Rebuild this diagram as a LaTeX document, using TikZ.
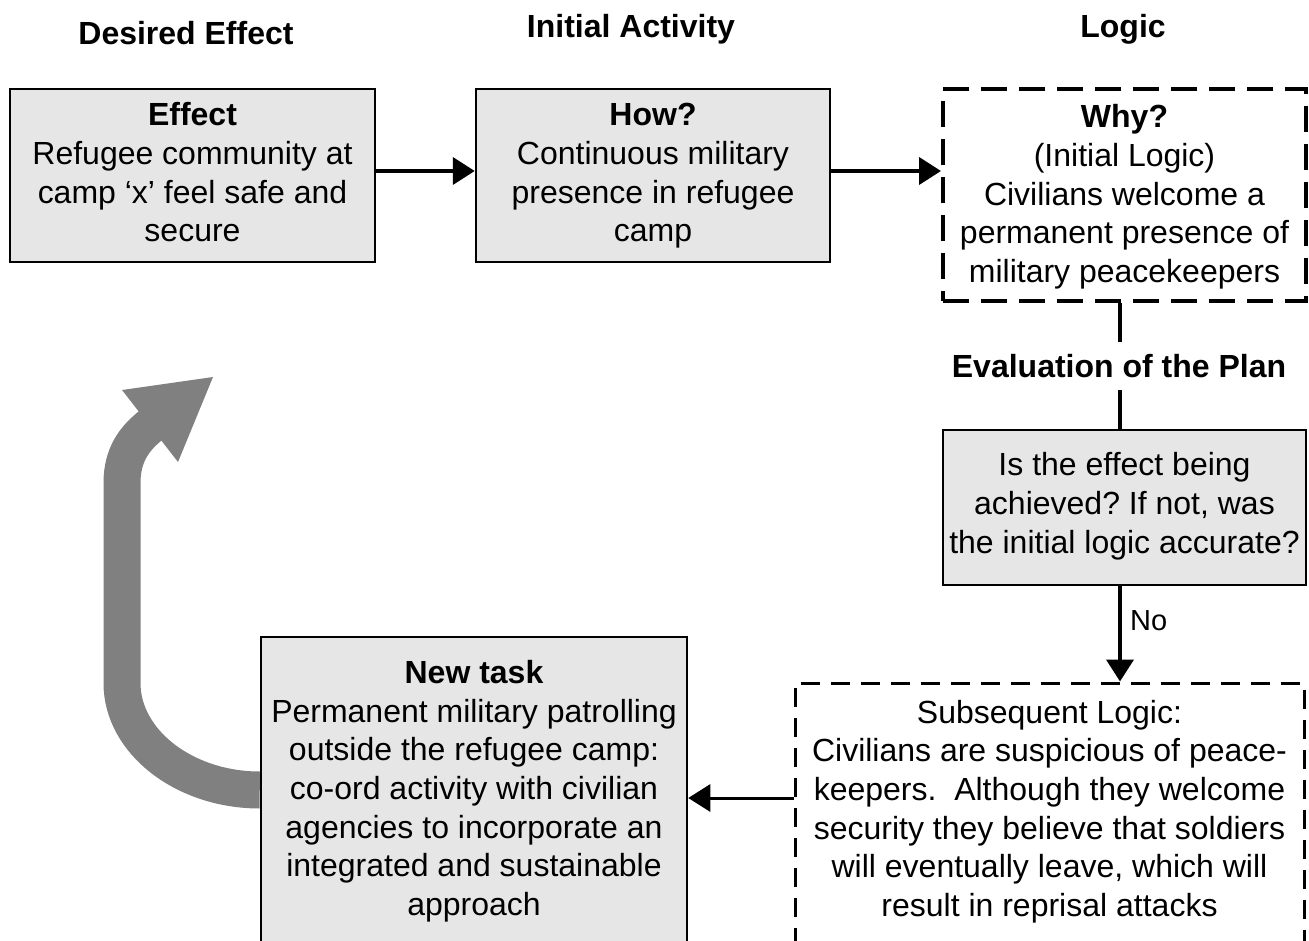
\documentclass[tikz,border=0pt]{standalone}
\usepackage{fontspec}
\setmainfont{Liberation Sans}
\usetikzlibrary{arrows.meta,backgrounds}
\definecolor{boxfill}{HTML}{E6E6E6}
\definecolor{loopgray}{HTML}{808080}
\frenchspacing
\begin{document}
\begin{tikzpicture}[x=1pt,y=-1pt,
  txt/.style={font=\fontsize{32}{38.7}\selectfont},
  box/.style={txt, draw=black, line width=2.5pt, fill=boxfill, align=center, inner sep=0pt, text depth=0pt},
  dbox/.style={txt, draw=black, line width=4pt, dash pattern=on 26pt off 12pt, align=center, inner sep=0pt, text depth=0pt},
  dboxthin/.style={dbox, line width=3pt, dash pattern=on 19pt off 11pt},
  arr/.style={line width=4pt, -{Triangle[length=22pt,width=27pt]}},
  conn/.style={line width=4pt},
  title/.style={font=\bfseries\fontsize{32}{38.5}\selectfont, anchor=base, inner sep=0pt},
  loop/.style={loopgray, line width=37pt}]
\clip (0,0) rectangle (1309,941);

% titles
\node[title] (t1) at (186,45) {Desired Effect};
\node[title] (t2) at (631,38) {Initial Activity};
\node[title] (t3) at (1123,38) {Logic};

% boxes
\node[box, minimum width=365pt, minimum height=173pt, text height=133pt] (eff) at (192.5,175.5)
  {\textbf{Effect}\\Refugee community at\\camp ‘x’ feel safe and\\secure};
\node[box, minimum width=354pt, minimum height=173pt, text height=133pt] (how) at (653,175.5)
  {\textbf{How?}\\Continuous military\\presence in refugee\\camp};
\node[dbox, minimum width=363pt, minimum height=212pt, text height=175pt] (why) at (1124.5,195)
  {\textbf{Why?}\\(Initial Logic)\\Civilians welcome a\\permanent presence of\\military peacekeepers};
\node[box, minimum width=363pt, minimum height=155pt, text height=91pt] (eval) at (1124.5,507.5)
  {Is the effect being\\achieved? If not, was\\the initial logic accurate?};
\node[dboxthin, minimum width=509pt, minimum height=267pt, text height=200pt] (sub) at (1049.5,816.5)
  {Subsequent Logic:\\Civilians are suspicious of peace-\\keepers.\ \ Although they welcome\\security they believe that soldiers\\will eventually leave, which will\\result in reprisal attacks};
\node[box, minimum width=426pt, minimum height=313pt, text height=244pt] (newtask) at (474,793.5)
  {\textbf{New task}\\Permanent military patrolling\\outside the refugee camp:\\co-ord activity with civilian\\agencies to incorporate an\\integrated and sustainable\\approach};

% labels
\node[title] (evl) at (1119,377) {Evaluation of the Plan};
\node[txt, font=\fontsize{29}{34}\selectfont, anchor=base west, inner sep=0pt] (no) at (1130,630) {No};

% connectors
\coordinate (r1) at (0,171);
\coordinate (r2) at (0,798);
\coordinate (e1) at (1120,342);
\coordinate (e2) at (1120,390);
\draw[arr] (eff.east |- r1) -- (how.west |- r1);
\draw[arr] (how.east |- r1) -- (why.west |- r1);
\draw[conn] (why.south -| e1) -- (e1);
\draw[conn] (e2) -- (eval.north -| e2);
\draw[arr] (eval.south -| e2) -- (sub.north -| e2);
\draw[arr, line width=3pt] (sub.west |- r2) -- (newtask.east |- r2);

% big gray loop arrow
\coordinate (r3) at (0,790);
\coordinate (lhead) at (213,377);
\begin{scope}[on background layer]
\draw[loop] (newtask.west |- r3) .. controls (184.7,790) and (122,742) .. (122,683)
  -- (122,483) .. controls (122,455) and (134.25,438.25) .. (152,424.5);
\end{scope}
\fill[loopgray] (lhead) -- (122,390) -- (178,462) -- cycle;
\end{tikzpicture}
\end{document}
